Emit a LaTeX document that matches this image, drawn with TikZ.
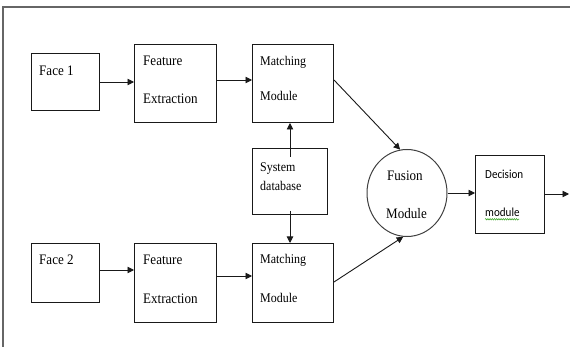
\documentclass[tikz,border=0pt]{standalone}
\usepackage{fontspec}
\usepackage{graphicx}
\setmainfont{Liberation Serif}
\newfontfamily\timesf{Liberation Serif}
\newfontfamily\calib{Carlito}
\newcommand{\narrowtxt}[1]{\scalebox{0.9}[1]{#1}}
\definecolor{spellgreen}{RGB}{70,170,50}
\usetikzlibrary{arrows.meta,shapes.geometric,decorations.pathmorphing}
\begin{document}
\begin{tikzpicture}[x=1pt,y=-1pt,
  box/.style={draw=black!90,line width=1pt,anchor=north west,inner sep=0pt,minimum width=#1},
  arr/.style={draw=black!90,line width=0.9pt,-{Triangle[length=6.5pt,width=6.5pt]}},
  lbl/.style={inner sep=0pt,anchor=base west,font=\timesf\fontsize{14.5}{14.5}\selectfont},
  slbl/.style={inner sep=0pt,anchor=base west,font=\timesf\fontsize{13.3}{13.3}\selectfont},
  clbl/.style={inner sep=0pt,anchor=base west,font=\calib\fontsize{12.3}{12.3}\selectfont}]
\useasboundingbox (0,0) rectangle (570,347);
\fill[white] (0,0) rectangle (570,347);
% outer frame
\draw[draw=black!60,line width=1.3pt] (3,7) rectangle (590,370);
% boxes
\node[box=68pt,minimum height=57pt] (f1) at (31,53) {};
\node[box=82pt,minimum height=78pt] (fe1) at (134,44) {};
\node[box=81pt,minimum height=78pt] (mm1) at (252,44) {};
\node[box=75pt,minimum height=66pt] (db) at (252,148) {};
\node[draw=black!75,line width=1pt,ellipse,inner sep=0pt,minimum width=80pt,minimum height=87pt] (fus) at (407,193) {};
\node[box=69pt,minimum height=78pt] (dec) at (475,155) {};
\node[box=68pt,minimum height=59pt] (f2) at (31,243) {};
\node[box=82pt,minimum height=79pt] (fe2) at (134,243) {};
\node[box=81pt,minimum height=79pt] (mm2) at (252,243) {};
\coordinate (out) at (569,194);
% texts
\node[lbl] (t1) at (39,76) {\narrowtxt{Face 1}};
\node[lbl] (t2) at (143,66) {\narrowtxt{Feature}};
\node[lbl] (t3) at (143,104) {\narrowtxt{Extraction}};
\node[slbl] (t4) at (260,66) {\narrowtxt{Matching}};
\node[slbl] (t5) at (260,101) {\narrowtxt{Module}};
\node[slbl] (t6) at (260,172) {\narrowtxt{System}};
\node[slbl] (t7) at (260,191) {\narrowtxt{database}};
\node[lbl] (t8) at (387,181) {\narrowtxt{Fusion}};
\node[lbl] (t9) at (386,219) {\narrowtxt{Module}};
\node[clbl] (t10) at (485,179) {\narrowtxt{Decision}};
\node[clbl] (t11) at (485,217) {\narrowtxt{module}};
\node[lbl] (t12) at (39,265) {\narrowtxt{Face 2}};
\node[lbl] (t13) at (143,265) {\narrowtxt{Feature}};
\node[lbl] (t14) at (143,303) {\narrowtxt{Extraction}};
\node[slbl] (t15) at (260,264) {\narrowtxt{Matching}};
\node[slbl] (t16) at (260,302) {\narrowtxt{Module}};
\draw[spellgreen,line width=0.6pt,decorate,decoration={snake,amplitude=0.7pt,segment length=2.2pt}] (t11.south west) ++(0,2) -- ++(34,0);
% connectors
\draw[arr] (f1.east) -- (f1.east -| fe1.west);
\draw[arr] (fe1.east |- 0,80) -- (mm1.west |- 0,80);
\draw[arr] ([yshift=-9pt]db.north) -- (db.north |- mm1.south);
\draw[arr] ([yshift=4pt]db.south) -- (db.south |- mm2.north);
\draw[arr] (mm1.east |- 0,80) -- (fus.99);
\draw[arr] (mm2.east |- 0,282) -- (fus.265);
\draw[arr] (fus.east) -- (fus.east -| dec.west);
\draw[arr] (dec.east |- out) -- (out);
\draw[arr] (f2.east |- 0,270) -- (fe2.west |- 0,270);
\draw[arr] (fe2.east |- 0,276) -- (mm2.west |- 0,276);
\end{tikzpicture}
\end{document}
